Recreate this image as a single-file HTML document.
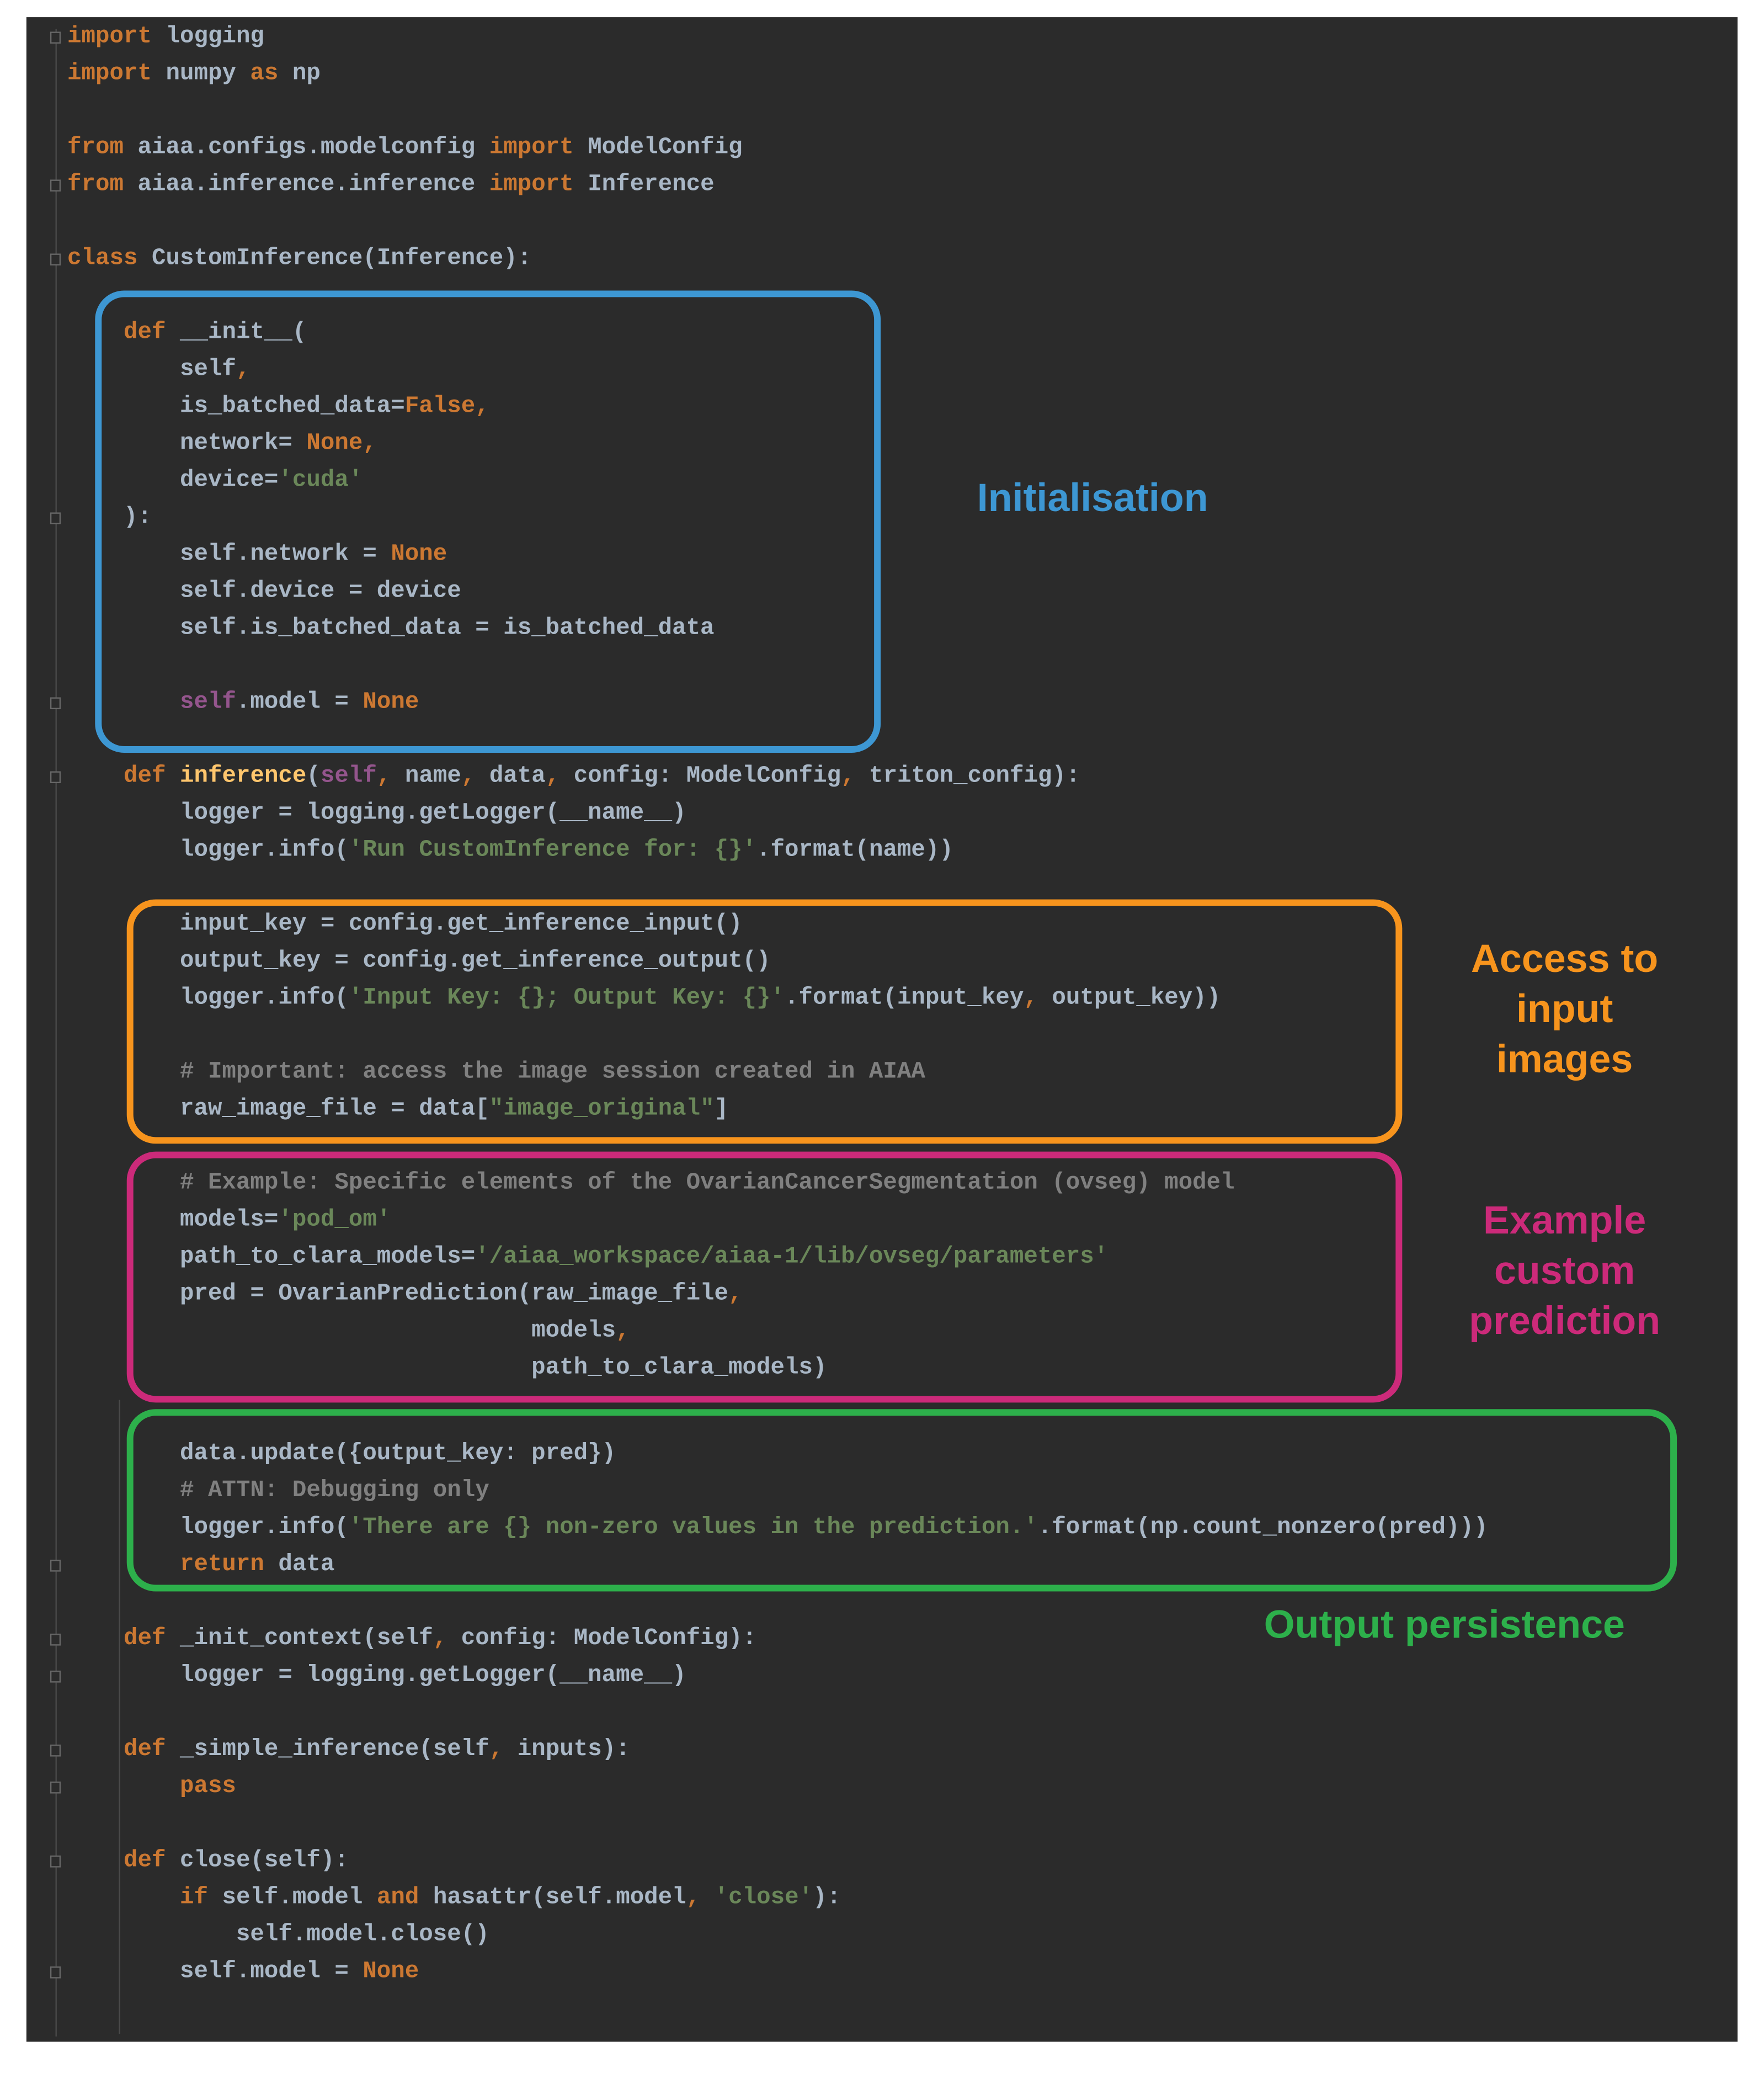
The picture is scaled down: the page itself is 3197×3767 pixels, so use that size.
<!DOCTYPE html>
<html><head><meta charset="utf-8"><style>
html,body{margin:0;padding:0;background:#fff;width:3197px;height:3766px;overflow:hidden}
#s{position:absolute;left:0;top:0;width:1336px;height:1574px;transform:scale(2.39296);transform-origin:0 0}
#panel{position:absolute;left:20px;top:13px;width:1296px;height:1533px;background:#2b2b2b}
.l{position:absolute;white-space:pre;font-family:"Liberation Mono",monospace;font-size:17.75px;line-height:28px;height:28px;color:#a9b7c6;font-weight:bold}
.k{color:#cc7832}.s{color:#6a8759}.c{color:#808080}.p{color:#94558d}.f{color:#ffc66d}
.box{position:absolute;border:5px solid;border-radius:22px;box-sizing:border-box}
.lab{position:absolute;font-family:"Liberation Sans",Arial,sans-serif;font-weight:bold;font-size:30px;line-height:38px;text-align:center}
.g{position:absolute;width:1px;background:#4a4a4a}
.fold{position:absolute;left:38px;width:8px;height:9px;border:1px solid #666;box-sizing:border-box;background:#2b2b2b}
</style></head><body><div id="s">
<div id="panel"></div>
<div class="g" style="left:42px;top:22px;height:1520px"></div>
<div class="g" style="left:90px;top:1060px;height:480px"></div>
<div class="fold" style="top:24px"></div>
<div class="fold" style="top:136px"></div>
<div class="fold" style="top:192px"></div>
<div class="fold" style="top:388px"></div>
<div class="fold" style="top:528px"></div>
<div class="fold" style="top:584px"></div>
<div class="fold" style="top:1181px"></div>
<div class="fold" style="top:1237px"></div>
<div class="fold" style="top:1265px"></div>
<div class="fold" style="top:1321px"></div>
<div class="fold" style="top:1349px"></div>
<div class="fold" style="top:1405px"></div>
<div class="fold" style="top:1489px"></div>

<div class="l" style="left:51px;top:14px"><span class="k">import</span> logging</div>
<div class="l" style="left:51px;top:42px"><span class="k">import</span> numpy <span class="k">as</span> np</div>
<div class="l" style="left:51px;top:98px"><span class="k">from</span> aiaa.configs.modelconfig <span class="k">import</span> ModelConfig</div>
<div class="l" style="left:51px;top:126px"><span class="k">from</span> aiaa.inference.inference <span class="k">import</span> Inference</div>
<div class="l" style="left:51px;top:182px"><span class="k">class</span> CustomInference(Inference):</div>

<div class="l" style="left:51px;top:238px">    <span class="k">def</span> __init__(</div>
<div class="l" style="left:51px;top:266px">        self<span class="k">,</span></div>
<div class="l" style="left:51px;top:294px">        is_batched_data=<span class="k">False,</span></div>
<div class="l" style="left:51px;top:322px">        network= <span class="k">None,</span></div>
<div class="l" style="left:51px;top:350px">        device=<span class="s">'cuda'</span></div>
<div class="l" style="left:51px;top:378px">    ):</div>
<div class="l" style="left:51px;top:406px">        self.network = <span class="k">None</span></div>
<div class="l" style="left:51px;top:434px">        self.device = device</div>
<div class="l" style="left:51px;top:462px">        self.is_batched_data = is_batched_data</div>
<div class="l" style="left:51px;top:518px">        <span class="p">self</span>.model = <span class="k">None</span></div>

<div class="l" style="left:51px;top:574px">    <span class="k">def</span> <span class="f">inference</span>(<span class="p">self</span><span class="k">,</span> name<span class="k">,</span> data<span class="k">,</span> config: ModelConfig<span class="k">,</span> triton_config):</div>
<div class="l" style="left:51px;top:602px">        logger = logging.getLogger(__name__)</div>
<div class="l" style="left:51px;top:630px">        logger.info(<span class="s">'Run CustomInference for: {}'</span>.format(name))</div>

<div class="l" style="left:51px;top:686px">        input_key = config.get_inference_input()</div>
<div class="l" style="left:51px;top:714px">        output_key = config.get_inference_output()</div>
<div class="l" style="left:51px;top:742px">        logger.info(<span class="s">'Input Key: {}; Output Key: {}'</span>.format(input_key<span class="k">,</span> output_key))</div>
<div class="l" style="left:51px;top:798px">        <span class="c"># Important: access the image session created in AIAA</span></div>
<div class="l" style="left:51px;top:826px">        raw_image_file = data[<span class="s">"image_original"</span>]</div>

<div class="l" style="left:51px;top:882px">        <span class="c"># Example: Specific elements of the OvarianCancerSegmentation (ovseg) model</span></div>
<div class="l" style="left:51px;top:910px">        models=<span class="s">'pod_om'</span></div>
<div class="l" style="left:51px;top:938px">        path_to_clara_models=<span class="s">'/aiaa_workspace/aiaa-1/lib/ovseg/parameters'</span></div>
<div class="l" style="left:51px;top:966px">        pred = OvarianPrediction(raw_image_file<span class="k">,</span></div>
<div class="l" style="left:51px;top:994px">                                 models<span class="k">,</span></div>
<div class="l" style="left:51px;top:1022px">                                 path_to_clara_models)</div>

<div class="l" style="left:51px;top:1087px">        data.update({output_key: pred})</div>
<div class="l" style="left:51px;top:1115px">        <span class="c"># ATTN: Debugging only</span></div>
<div class="l" style="left:51px;top:1143px">        logger.info(<span class="s">'There are {} non-zero values in the prediction.'</span>.format(np.count_nonzero(pred)))</div>
<div class="l" style="left:51px;top:1171px">        <span class="k">return</span> data</div>

<div class="l" style="left:51px;top:1227px">    <span class="k">def</span> _init_context(self<span class="k">,</span> config: ModelConfig):</div>
<div class="l" style="left:51px;top:1255px">        logger = logging.getLogger(__name__)</div>
<div class="l" style="left:51px;top:1311px">    <span class="k">def</span> _simple_inference(self<span class="k">,</span> inputs):</div>
<div class="l" style="left:51px;top:1339px">        <span class="k">pass</span></div>
<div class="l" style="left:51px;top:1395px">    <span class="k">def</span> close(self):</div>
<div class="l" style="left:51px;top:1423px">        <span class="k">if</span> self.model <span class="k">and</span> hasattr(self.model<span class="k">,</span> <span class="s">'close'</span>):</div>
<div class="l" style="left:51px;top:1451px">            self.model.close()</div>
<div class="l" style="left:51px;top:1479px">        self.model = <span class="k">None</span></div>

<div class="box" style="left:72px;top:220px;width:595px;height:350px;border-color:#3d97d3"></div>
<div class="box" style="left:96px;top:681px;width:966px;height:185px;border-color:#f7941d"></div>
<div class="box" style="left:96px;top:872px;width:966px;height:190px;border-color:#cc2a7a"></div>
<div class="box" style="left:96px;top:1067px;width:1174px;height:138px;border-color:#2db04b"></div>

<div class="lab" style="left:700px;top:359px;width:255px;color:#3d97d3">Initialisation</div>
<div class="lab" style="left:1085px;top:708px;width:200px;color:#f7941d">Access to<br>input<br>images</div>
<div class="lab" style="left:1085px;top:906px;width:200px;color:#cc2a7a">Example<br>custom<br>prediction</div>
<div class="lab" style="left:944px;top:1212px;width:300px;color:#2db04b">Output persistence</div>
</div></body></html>
